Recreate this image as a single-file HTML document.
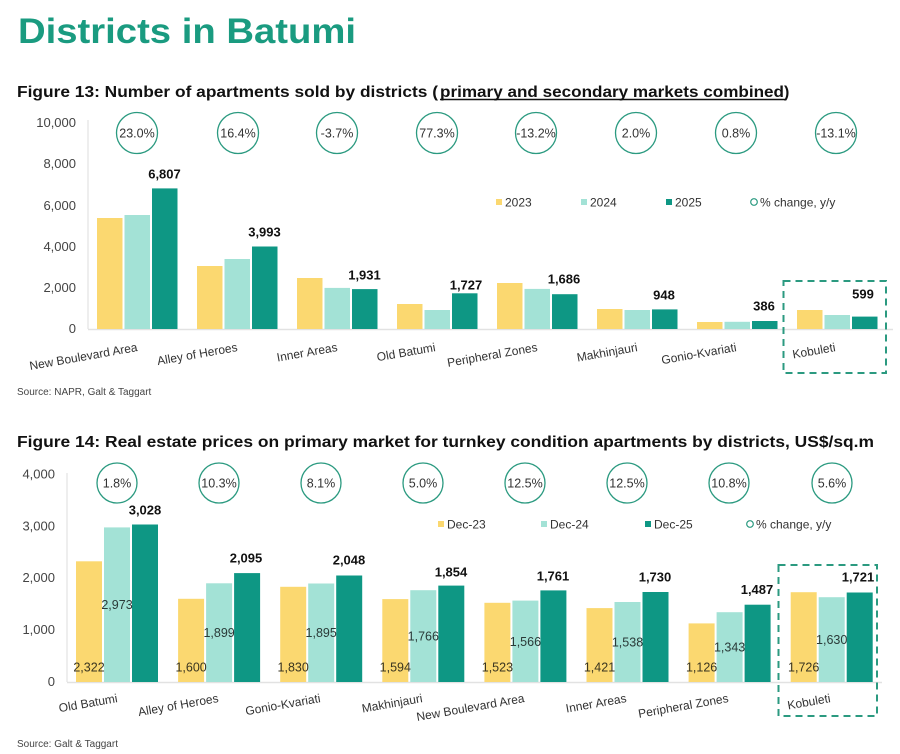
<!DOCTYPE html>
<html><head><meta charset="utf-8"><style>
html,body{margin:0;padding:0;background:#fff;}
svg{display:block;}
text{font-family:"Liberation Sans",sans-serif;}
</style></head><body>
<svg width="900" height="754" viewBox="0 0 900 754" xmlns="http://www.w3.org/2000/svg">
<rect width="900" height="754" fill="#fff"/>
<!-- Title -->
<text x="18" y="43" font-size="35" font-weight="bold" fill="#1a9b80" textLength="338" lengthAdjust="spacingAndGlyphs">Districts in Batumi</text>

<!-- Figure 13 title -->
<text x="17" y="97" font-size="16" font-weight="bold" fill="#111" textLength="421" lengthAdjust="spacingAndGlyphs">Figure 13:  Number of apartments sold by districts (</text>
<text x="440" y="97" font-size="16" font-weight="bold" fill="#111" textLength="344" lengthAdjust="spacingAndGlyphs">primary and secondary markets combined</text>
<text x="784" y="97" font-size="16" font-weight="bold" fill="#111">)</text>
<line x1="440" y1="99.5" x2="785" y2="99.5" stroke="#111" stroke-width="1.4"/>

<!-- Fig13 axes -->
<line x1="88" y1="120" x2="88" y2="329" stroke="#e2e2e2" stroke-width="1.2"/>
<line x1="88" y1="329.5" x2="893" y2="329.5" stroke="#e2e2e2" stroke-width="1.5"/>
<g font-size="13" fill="#444" text-anchor="end">
<text x="76" y="127">10,000</text>
<text x="76" y="168">8,000</text>
<text x="76" y="210">6,000</text>
<text x="76" y="251">4,000</text>
<text x="76" y="292">2,000</text>
<text x="76" y="333">0</text>
</g>

<!-- Fig13 bars -->
<g>
<!-- NBA c=137 -->
<rect x="97" y="218" width="25.5" height="111" fill="#fbd870"/>
<rect x="124.5" y="215" width="25.5" height="114" fill="#a3e2d6"/>
<rect x="152" y="188.4" width="25.5" height="140.6" fill="#0e9784"/>
<!-- Alley c=237 -->
<rect x="197" y="266" width="25.5" height="63" fill="#fbd870"/>
<rect x="224.5" y="259" width="25.5" height="70" fill="#a3e2d6"/>
<rect x="252" y="246.5" width="25.5" height="82.5" fill="#0e9784"/>
<!-- Inner c=337 -->
<rect x="297" y="278" width="25.5" height="51" fill="#fbd870"/>
<rect x="324.5" y="287.9" width="25.5" height="41.1" fill="#a3e2d6"/>
<rect x="352" y="289.1" width="25.5" height="39.9" fill="#0e9784"/>
<!-- Old c=437 -->
<rect x="397" y="304" width="25.5" height="25" fill="#fbd870"/>
<rect x="424.5" y="310" width="25.5" height="19" fill="#a3e2d6"/>
<rect x="452" y="293.3" width="25.5" height="35.7" fill="#0e9784"/>
<!-- Peri c=537 -->
<rect x="497" y="283" width="25.5" height="46" fill="#fbd870"/>
<rect x="524.5" y="288.9" width="25.5" height="40.1" fill="#a3e2d6"/>
<rect x="552" y="294.2" width="25.5" height="34.8" fill="#0e9784"/>
<!-- Makh c=637 -->
<rect x="597" y="309" width="25.5" height="20" fill="#fbd870"/>
<rect x="624.5" y="310" width="25.5" height="19" fill="#a3e2d6"/>
<rect x="652" y="309.4" width="25.5" height="19.6" fill="#0e9784"/>
<!-- Gonio c=737 -->
<rect x="697" y="322" width="25.5" height="7" fill="#fbd870"/>
<rect x="724.5" y="321.8" width="25.5" height="7.2" fill="#a3e2d6"/>
<rect x="752" y="321" width="25.5" height="8" fill="#0e9784"/>
<!-- Kob c=837 -->
<rect x="797" y="310" width="25.5" height="19" fill="#fbd870"/>
<rect x="824.5" y="315" width="25.5" height="14" fill="#a3e2d6"/>
<rect x="852" y="316.6" width="25.5" height="12.4" fill="#0e9784"/>
</g>
<g font-size="13" font-weight="bold" fill="#111" text-anchor="middle">
<text x="164.5" y="178.5">6,807</text>
<text x="264.5" y="236.5">3,993</text>
<text x="364.5" y="279.5">1,931</text>
<text x="466" y="289.5">1,727</text>
<text x="564" y="283.5">1,686</text>
<text x="664" y="299.5">948</text>
<text x="764" y="310.5">386</text>
<text x="863" y="298.5">599</text>
</g>
<!-- Fig13 circles -->
<g fill="none" stroke="#2b9a80" stroke-width="1.3">
<circle cx="137" cy="133" r="20.5"/><circle cx="238" cy="133" r="20.5"/>
<circle cx="337" cy="133" r="20.5"/><circle cx="437" cy="133" r="20.5"/>
<circle cx="536" cy="133" r="20.5"/><circle cx="636" cy="133" r="20.5"/>
<circle cx="736" cy="133" r="20.5"/><circle cx="836" cy="133" r="20.5"/>
</g>
<g font-size="12.5" fill="#333" text-anchor="middle">
<text x="137" y="137.5">23.0%</text><text x="238" y="137.5">16.4%</text>
<text x="337" y="137.5">-3.7%</text><text x="437" y="137.5">77.3%</text>
<text x="536" y="137.5">-13.2%</text><text x="636" y="137.5">2.0%</text>
<text x="736" y="137.5">0.8%</text><text x="836" y="137.5">-13.1%</text>
</g>
<!-- Fig13 legend -->
<rect x="496" y="199" width="6" height="6" fill="#fbd870"/>
<text x="505" y="206.5" font-size="12" fill="#333">2023</text>
<rect x="581" y="199" width="6" height="6" fill="#a3e2d6"/>
<text x="590" y="206.5" font-size="12" fill="#333">2024</text>
<rect x="666" y="199" width="6" height="6" fill="#0e9784"/>
<text x="675" y="206.5" font-size="12" fill="#333">2025</text>
<circle cx="754" cy="202" r="3.3" fill="none" stroke="#2b9a80" stroke-width="1.2"/>
<text x="760" y="206.5" font-size="12" fill="#333">% change, y/y</text>
<!-- Fig13 x labels -->
<g font-size="12" fill="#333" text-anchor="end">
<text transform="translate(138,351) rotate(-10)">New Boulevard Area</text>
<text transform="translate(238,351) rotate(-10)">Alley of Heroes</text>
<text transform="translate(338,351) rotate(-10)">Inner Areas</text>
<text transform="translate(436,351) rotate(-10)">Old Batumi</text>
<text transform="translate(538,351) rotate(-10)">Peripheral Zones</text>
<text transform="translate(638,351) rotate(-10)">Makhinjauri</text>
<text transform="translate(737,351) rotate(-10)">Gonio-Kvariati</text>
<text transform="translate(836,351) rotate(-10)">Kobuleti</text>
</g>
<rect x="783.5" y="281" width="102.5" height="92" fill="none" stroke="#2b9a80" stroke-width="2" stroke-dasharray="7,5"/>
<text x="17" y="395" font-size="10" fill="#444">Source: NAPR, Galt &amp; Taggart</text>

<!-- Figure 14 title -->
<text x="17" y="447" font-size="16" font-weight="bold" fill="#111" textLength="857" lengthAdjust="spacingAndGlyphs">Figure 14: Real estate prices on primary market for turnkey condition apartments by districts, US$/sq.m</text>

<!-- Fig14 axes -->
<line x1="67" y1="473" x2="67" y2="682" stroke="#e2e2e2" stroke-width="1.2"/>
<line x1="67" y1="682.5" x2="882" y2="682.5" stroke="#e2e2e2" stroke-width="1.5"/>
<g font-size="13" fill="#444" text-anchor="end">
<text x="55" y="478.5">4,000</text>
<text x="55" y="530.5">3,000</text>
<text x="55" y="582">2,000</text>
<text x="55" y="634">1,000</text>
<text x="55" y="686">0</text>
</g>
<!-- Fig14 bars -->
<g>
<rect x="76" y="561.3" width="26" height="120.7" fill="#fbd870"/>
<rect x="104" y="527.4" width="26" height="154.6" fill="#a3e2d6"/>
<rect x="132" y="524.5" width="26" height="157.5" fill="#0e9784"/>

<rect x="178.1" y="598.8" width="26" height="83.2" fill="#fbd870"/>
<rect x="206.1" y="583.3" width="26" height="98.7" fill="#a3e2d6"/>
<rect x="234.1" y="573.1" width="26" height="108.9" fill="#0e9784"/>

<rect x="280.2" y="586.8" width="26" height="95.2" fill="#fbd870"/>
<rect x="308.2" y="583.5" width="26" height="98.5" fill="#a3e2d6"/>
<rect x="336.2" y="575.5" width="26" height="106.5" fill="#0e9784"/>

<rect x="382.3" y="599.1" width="26" height="82.9" fill="#fbd870"/>
<rect x="410.3" y="590.2" width="26" height="91.8" fill="#a3e2d6"/>
<rect x="438.3" y="585.6" width="26" height="96.4" fill="#0e9784"/>

<rect x="484.4" y="602.8" width="26" height="79.2" fill="#fbd870"/>
<rect x="512.4" y="600.6" width="26" height="81.4" fill="#a3e2d6"/>
<rect x="540.4" y="590.4" width="26" height="91.6" fill="#0e9784"/>

<rect x="586.5" y="608.1" width="26" height="73.9" fill="#fbd870"/>
<rect x="614.5" y="602" width="26" height="80" fill="#a3e2d6"/>
<rect x="642.5" y="592" width="26" height="90" fill="#0e9784"/>

<rect x="688.6" y="623.4" width="26" height="58.6" fill="#fbd870"/>
<rect x="716.6" y="612.2" width="26" height="69.8" fill="#a3e2d6"/>
<rect x="744.6" y="604.7" width="26" height="77.3" fill="#0e9784"/>

<rect x="790.7" y="592.2" width="26" height="89.8" fill="#fbd870"/>
<rect x="818.7" y="597.2" width="26" height="84.8" fill="#a3e2d6"/>
<rect x="846.7" y="592.5" width="26" height="89.5" fill="#0e9784"/>
</g>
<!-- inner labels -->
<g font-size="12.5" fill="#3a3520" text-anchor="middle">
<text x="89" y="671.5">2,322</text>
<text x="191.1" y="671.5">1,600</text>
<text x="293.2" y="671.5">1,830</text>
<text x="395.3" y="671.5">1,594</text>
<text x="497.4" y="671.5">1,523</text>
<text x="599.5" y="671.5">1,421</text>
<text x="701.6" y="671.5">1,126</text>
<text x="803.7" y="671.5">1,726</text>
</g>
<g font-size="12.5" fill="#2a3a38" text-anchor="middle">
<text x="117" y="609">2,973</text>
<text x="219.1" y="637">1,899</text>
<text x="321.2" y="637">1,895</text>
<text x="423.3" y="640.5">1,766</text>
<text x="525.4" y="645.8">1,566</text>
<text x="627.5" y="646.5">1,538</text>
<text x="729.6" y="651.6">1,343</text>
<text x="831.7" y="644">1,630</text>
</g>
<g font-size="13" font-weight="bold" fill="#111" text-anchor="middle">
<text x="145" y="514.5">3,028</text>
<text x="246" y="562.5">2,095</text>
<text x="349" y="564.5">2,048</text>
<text x="451" y="576.5">1,854</text>
<text x="553" y="580.5">1,761</text>
<text x="655" y="581.5">1,730</text>
<text x="757" y="594">1,487</text>
<text x="858" y="581.5">1,721</text>
</g>
<!-- Fig14 circles -->
<g fill="none" stroke="#2b9a80" stroke-width="1.3">
<circle cx="117" cy="483" r="20"/><circle cx="219" cy="483" r="20"/>
<circle cx="321" cy="483" r="20"/><circle cx="423" cy="483" r="20"/>
<circle cx="525" cy="483" r="20"/><circle cx="627" cy="483" r="20"/>
<circle cx="729" cy="483" r="20"/><circle cx="832" cy="483" r="20"/>
</g>
<g font-size="12.5" fill="#333" text-anchor="middle">
<text x="117" y="487.5">1.8%</text><text x="219" y="487.5">10.3%</text>
<text x="321" y="487.5">8.1%</text><text x="423" y="487.5">5.0%</text>
<text x="525" y="487.5">12.5%</text><text x="627" y="487.5">12.5%</text>
<text x="729" y="487.5">10.8%</text><text x="832" y="487.5">5.6%</text>
</g>
<!-- Fig14 legend -->
<rect x="438" y="521" width="6" height="6" fill="#fbd870"/>
<text x="447" y="528.5" font-size="12" fill="#333">Dec-23</text>
<rect x="541" y="521" width="6" height="6" fill="#a3e2d6"/>
<text x="550" y="528.5" font-size="12" fill="#333">Dec-24</text>
<rect x="645" y="521" width="6" height="6" fill="#0e9784"/>
<text x="654" y="528.5" font-size="12" fill="#333">Dec-25</text>
<circle cx="750" cy="524" r="3.3" fill="none" stroke="#2b9a80" stroke-width="1.2"/>
<text x="756" y="528.5" font-size="12" fill="#333">% change, y/y</text>
<!-- Fig14 x labels -->
<g font-size="12" fill="#333" text-anchor="end">
<text transform="translate(118,702) rotate(-10)">Old Batumi</text>
<text transform="translate(219,702) rotate(-10)">Alley of Heroes</text>
<text transform="translate(321,702) rotate(-10)">Gonio-Kvariati</text>
<text transform="translate(423,702) rotate(-10)">Makhinjauri</text>
<text transform="translate(525,702) rotate(-10)">New Boulevard Area</text>
<text transform="translate(627,702) rotate(-10)">Inner Areas</text>
<text transform="translate(729,702) rotate(-10)">Peripheral Zones</text>
<text transform="translate(831,702) rotate(-10)">Kobuleti</text>
</g>
<rect x="778.5" y="565" width="98.5" height="151" fill="none" stroke="#2b9a80" stroke-width="2" stroke-dasharray="7,5"/>
<text x="17" y="747" font-size="10" fill="#444">Source: Galt &amp; Taggart</text>
</svg>
</body></html>
